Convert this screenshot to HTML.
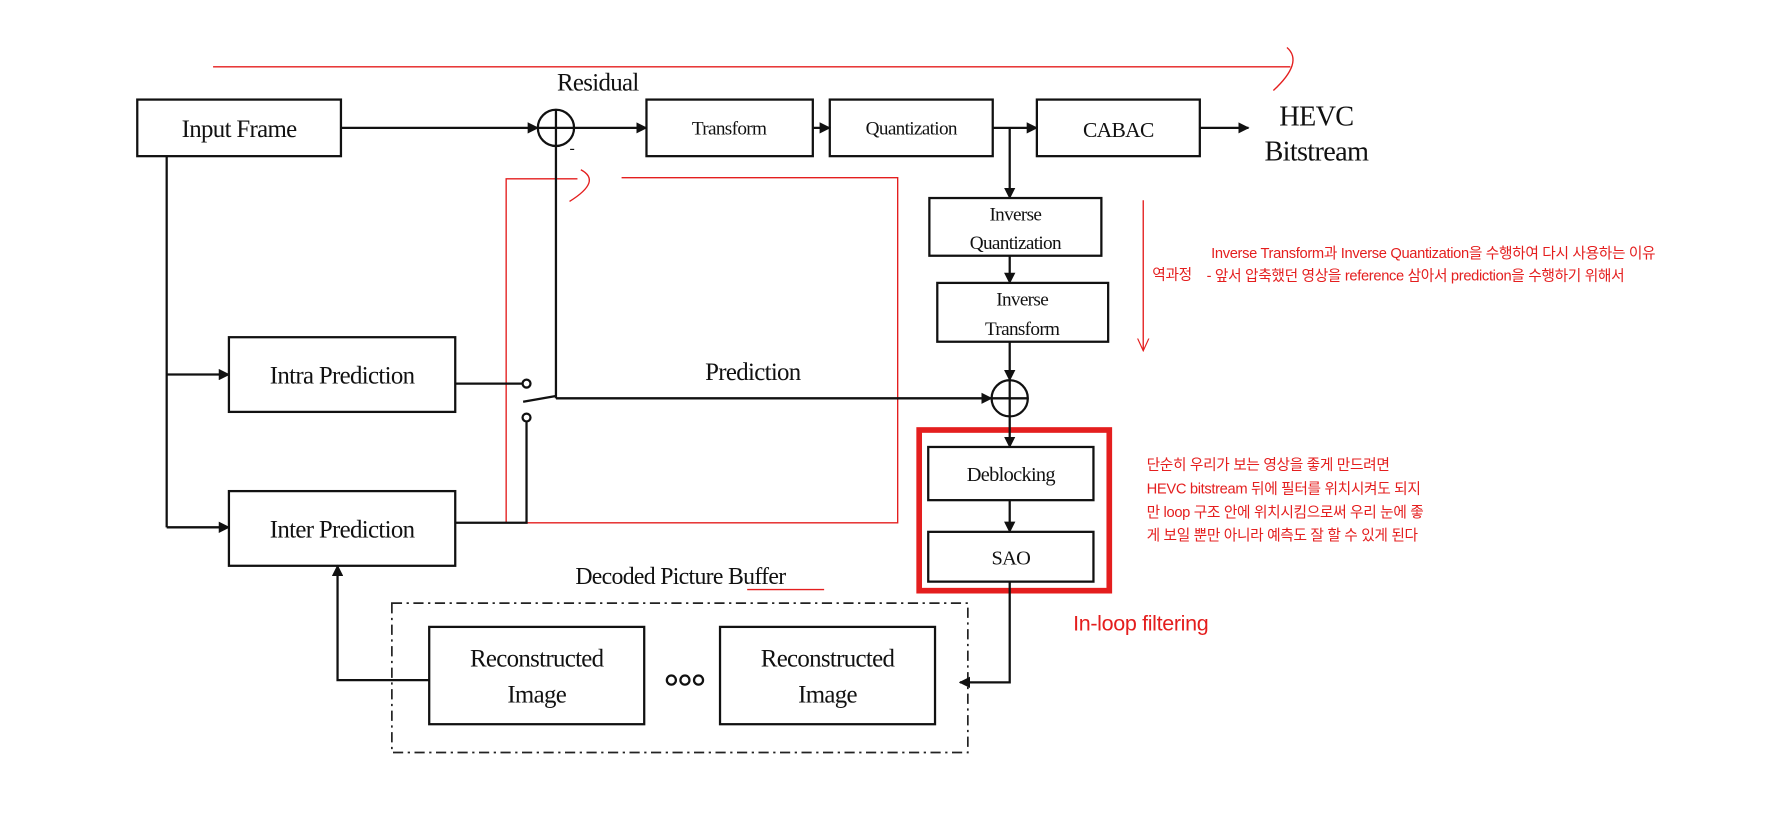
<!DOCTYPE html>
<html><head><meta charset="utf-8"><style>
html,body{margin:0;padding:0;background:#fff;}
svg{display:block;}
.s{font-family:"Liberation Serif",serif;fill:#111;text-anchor:middle;letter-spacing:-0.6px;}
.k{font-family:"Liberation Sans","Noto Sans CJK KR",sans-serif;fill:#e41e1e;font-size:13px;letter-spacing:-0.3px;}
</style></head><body>
<svg width="1775" height="817" viewBox="0 0 1568 722" xmlns="http://www.w3.org/2000/svg">
<defs>
<marker id="a" markerWidth="10" markerHeight="10" refX="9" refY="5" orient="auto" markerUnits="userSpaceOnUse"><path d="M0,0 L10,5 L0,10 z" fill="#111"/></marker>
<marker id="r" markerWidth="12" markerHeight="14" refX="11" refY="6" orient="auto" markerUnits="userSpaceOnUse"><path d="M0,1 L11,6 L0,11" fill="none" stroke="#e41e1e" stroke-width="1"/></marker>
</defs>
<g stroke="#e41e1e" fill="none" stroke-width="1.2">
<line x1="188" y1="59" x2="1140" y2="59"/>
<path d="M1137,42 Q1152,55 1125,80"/>
<path d="M447,462 V158 H510 M549,157 H793 V462 H447"/>
<path d="M513,150 Q532,160 503,178"/>
<line x1="1010" y1="177" x2="1010" y2="310" marker-end="url(#r)"/>
<line x1="660" y1="521" x2="728" y2="521"/>
<rect x="812" y="380" width="168" height="142" stroke-width="5"/>
</g>
<g stroke="#111" fill="#fff" stroke-width="2">
<rect x="121" y="88" width="180" height="50"/>
<rect x="571" y="88" width="147" height="50"/>
<rect x="733" y="88" width="144" height="50"/>
<rect x="916" y="88" width="144" height="50"/>
<rect x="821" y="175" width="152" height="51"/>
<rect x="828" y="250" width="151" height="52"/>
<rect x="820" y="395" width="146" height="47"/>
<rect x="820" y="470" width="146" height="44"/>
<rect x="202" y="298" width="200" height="66"/>
<rect x="202" y="434" width="200" height="66"/>
<rect x="379" y="554" width="190" height="86"/>
<rect x="636" y="554" width="190" height="86"/>
</g>
<rect x="346" y="533" width="509" height="132" fill="none" stroke="#222" stroke-width="1.5" stroke-dasharray="9,4,2,4"/>
<g stroke="#111" fill="none" stroke-width="2">
<line x1="301" y1="113" x2="475" y2="113" marker-end="url(#a)"/>
<circle cx="491" cy="113" r="16"/>
<line x1="475" y1="113" x2="507" y2="113"/><line x1="491" y1="97" x2="491" y2="129"/>
<line x1="507" y1="113" x2="571" y2="113" marker-end="url(#a)"/>
<line x1="718" y1="113" x2="733" y2="113" marker-end="url(#a)"/>
<line x1="877" y1="113" x2="916" y2="113" marker-end="url(#a)"/>
<line x1="1060" y1="113" x2="1103" y2="113" marker-end="url(#a)"/>
<line x1="892" y1="113" x2="892" y2="175" marker-end="url(#a)"/>
<line x1="892" y1="226" x2="892" y2="250" marker-end="url(#a)"/>
<line x1="892" y1="302" x2="892" y2="336" marker-end="url(#a)"/>
<circle cx="892" cy="352" r="16"/>
<line x1="876" y1="352" x2="908" y2="352"/><line x1="892" y1="336" x2="892" y2="368"/>
<line x1="491" y1="129" x2="491" y2="352"/>
<line x1="462" y1="355" x2="491" y2="350"/>
<line x1="491" y1="352" x2="876" y2="352" marker-end="url(#a)"/>
<line x1="892" y1="368" x2="892" y2="395" marker-end="url(#a)"/>
<line x1="892" y1="442" x2="892" y2="470" marker-end="url(#a)"/>
<polyline points="892,514 892,603 848,603" marker-end="url(#a)"/>
<line x1="147" y1="138" x2="147" y2="466"/>
<line x1="147" y1="331" x2="202" y2="331" marker-end="url(#a)"/>
<line x1="147" y1="466" x2="202" y2="466" marker-end="url(#a)"/>
<line x1="402" y1="339" x2="461" y2="339"/>
<circle cx="465" cy="339" r="3.5" fill="#fff"/>
<circle cx="465" cy="369" r="3.5" fill="#fff"/>
<polyline points="465,373 465,462 402,462"/>
<polyline points="379,601 298,601 298,500" marker-end="url(#a)"/>
<circle cx="593" cy="601" r="4"/><circle cx="605" cy="601" r="4"/><circle cx="617" cy="601" r="4"/>
</g>
<g class="s">
<text x="528" y="80" font-size="22">Residual</text>
<text x="211" y="121" font-size="22">Input Frame</text>
<text x="644" y="119" font-size="17">Transform</text>
<text x="805" y="119" font-size="17">Quantization</text>
<text x="988" y="121" font-size="19">CABAC</text>
<text x="1163" y="111" font-size="25">HEVC</text>
<text x="1163" y="142" font-size="25">Bitstream</text>
<text x="505" y="135" font-size="14">-</text>
<text x="897" y="195" font-size="17">Inverse</text>
<text x="897" y="220" font-size="17">Quantization</text>
<text x="903" y="270" font-size="17">Inverse</text>
<text x="903" y="296" font-size="17">Transform</text>
<text x="893" y="425" font-size="18">Deblocking</text>
<text x="893" y="499" font-size="18">SAO</text>
<text x="302" y="339" font-size="22">Intra Prediction</text>
<text x="302" y="475" font-size="22">Inter Prediction</text>
<text x="665" y="336" font-size="22">Prediction</text>
<text x="601" y="516" font-size="21">Decoded Picture Buffer</text>
<text x="474" y="589" font-size="22">Reconstructed</text>
<text x="474" y="621" font-size="22">Image</text>
<text x="731" y="589" font-size="22">Reconstructed</text>
<text x="731" y="621" font-size="22">Image</text>
</g>
<g class="k">
<text x="1018" y="247">역과정</text>
<text x="1070" y="228">Inverse Transform과 Inverse Quantization을 수행하여 다시 사용하는 이유</text>
<text x="1066" y="248">- 앞서 압축했던 영상을 reference 삼아서 prediction을 수행하기 위해서</text>
<text x="1013" y="415">단순히 우리가 보는 영상을 좋게 만드려면</text>
<text x="1013" y="436">HEVC bitstream 뒤에 필터를 위치시켜도 되지</text>
<text x="1013" y="457">만 loop 구조 안에 위치시킴으로써 우리 눈에 좋</text>
<text x="1013" y="477">게 보일 뿐만 아니라 예측도 잘 할 수 있게 된다</text>
<text x="948" y="557" font-size="19">In-loop filtering</text>
</g>
</svg>
</body></html>
